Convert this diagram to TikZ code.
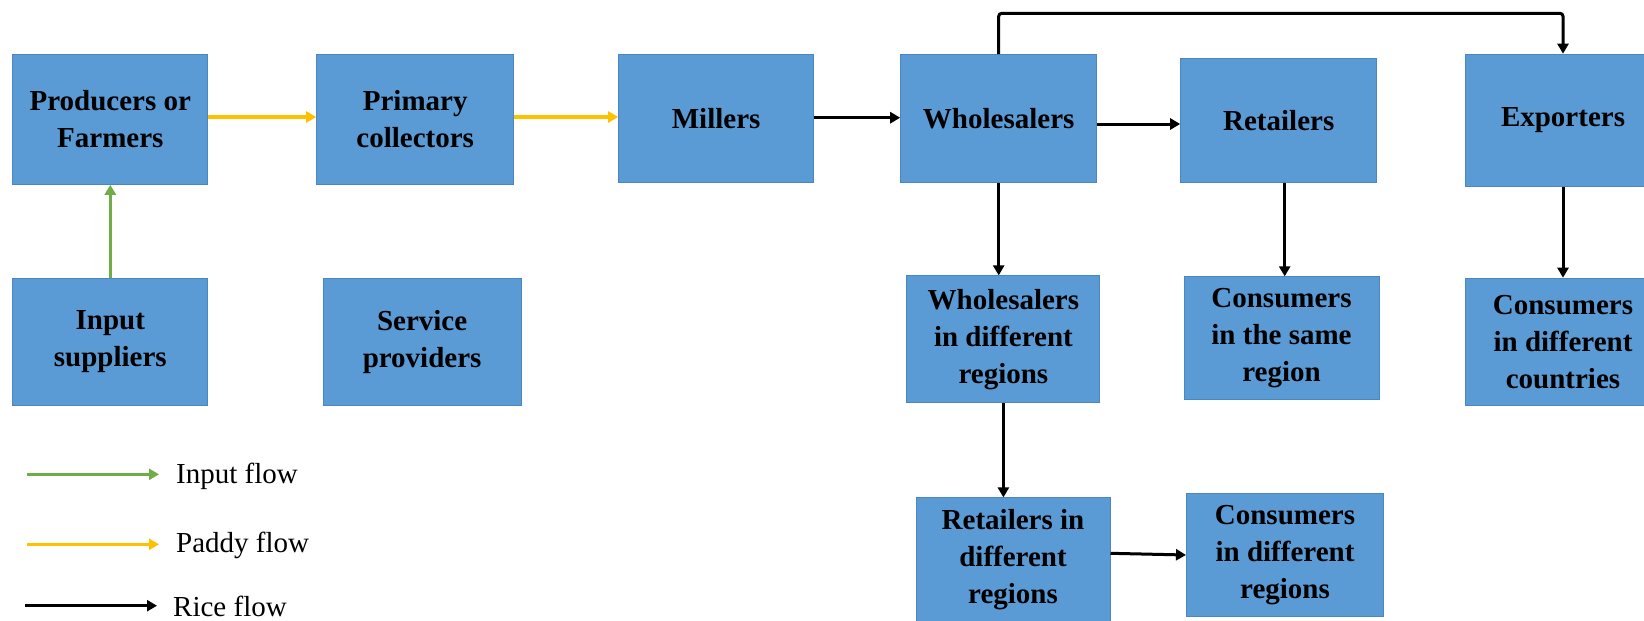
\documentclass[tikz,border=0pt]{standalone}
\usepackage{fontspec}
\setmainfont{Liberation Serif}
\usetikzlibrary{arrows.meta}
\definecolor{boxblue}{HTML}{5B9BD5}
\definecolor{boxedge}{HTML}{4A86C0}
\definecolor{ingreen}{HTML}{70AD47}
\definecolor{paddy}{HTML}{FFC000}
\begin{document}
\begin{tikzpicture}[x=1pt,y=-1pt,
  box/.style={draw=boxedge, line width=1pt, fill=boxblue, inner sep=0pt, align=center,
    font=\fontsize{29}{37}\selectfont\bfseries},
  flow/.style={line width=3pt, -{Triangle[length=10pt,width=11pt]}},
  inflow/.style={flow, line width=2.6pt, draw=ingreen},
  paddyflow/.style={flow, line width=3.2pt, draw=paddy},
  riceflow/.style={flow, draw=black},
  legtext/.style={anchor=west, inner sep=0pt, font=\fontsize{29}{35}\selectfont}
]
\clip (0,0) rectangle (1644,621);
\fill[white] (0,0) rectangle (1644,621);

% top row
\node[box, minimum width=195pt, minimum height=130pt] (prod) at (110.3,119.3) {Producers or\\Farmers};
\node[box, minimum width=197pt, minimum height=130pt] (prim) at (415.2,119.3) {Primary\\collectors};
\node[box, minimum width=195pt, minimum height=128pt] (mill) at (716.1,118.5) {Millers};
\node[box, minimum width=196pt, minimum height=128pt] (whol) at (998.7,118.5) {Wholesalers};
\node[box, minimum width=196pt, minimum height=124pt] (ret) at (1278.7,120.7) {Retailers};
\node[box, minimum width=195pt, minimum height=132pt] (exp) at (1563,120.2) {Exporters};

% second row
\node[box, minimum width=195pt, minimum height=127pt] (inp) at (110.3,341.7) {Input\\suppliers};
\node[box, minimum width=198pt, minimum height=127pt] (serv) at (422.1,341.7) {Service\\providers};
\node[box, minimum width=193pt, minimum height=127pt] (wdr) at (1003.4,339.4) {Wholesalers\\in different\\regions};
\node[box, minimum width=195pt, minimum height=123pt] (csr) at (1281.5,338.3) {Consumers\\in the same\\region};
\node[box, minimum width=195pt, minimum height=127pt] (cdc) at (1563,341.7) {Consumers\\in different\\countries};

% third row
\node[box, minimum width=194pt, minimum height=124pt] (rdr) at (1013,559.9) {Retailers in\\different\\regions};
\node[box, minimum width=197pt, minimum height=123pt] (cdr) at (1285,555) {Consumers\\in different\\regions};

% connectors
\draw[inflow] (inp.north) -- (prod.south);
\draw[paddyflow] (prod.east |- 0,117) -- (prim.west |- 0,117);
\draw[paddyflow] (prim.east |- 0,117) -- (mill.west |- 0,117);
\draw[riceflow] (mill.east |- 0,117.7) -- (whol.west |- 0,117.7);
\draw[riceflow] (whol.east |- 0,124) -- (ret.west |- 0,124);
\draw[riceflow, rounded corners=3pt] (whol.north) -- (whol.north |- 0,13.3) -- (exp.north |- 0,13.3) -- (exp.north);
\draw[riceflow] (whol.south) -- (whol.south |- wdr.north);
\draw[riceflow] ([xshift=6pt]ret.south) -- ([xshift=6pt]ret.south |- csr.north);
\draw[riceflow] (exp.south) -- (exp.south |- cdc.north);
\draw[riceflow] (wdr.south) -- (wdr.south |- rdr.north);
\draw[riceflow] (rdr.east |- 0,553.3) -- (cdr.west |- 0,555);

% legend
\coordinate (ga) at (27,474.3);
\coordinate (gb) at (159,474.3);
\coordinate (ya) at (27,544.3);
\coordinate (yb) at (159,544.3);
\coordinate (ba) at (25,605.7);
\coordinate (bb) at (157,605.7);
\draw[inflow] (ga) -- (gb);
\draw[paddyflow] (ya) -- (yb);
\draw[riceflow] (ba) -- (bb);
\node[legtext] (lin) at (176,476) {Input flow};
\node[legtext] (lpad) at (176,545) {Paddy flow};
\node[legtext] (lrice) at (173,606.5) {Rice flow};
\end{tikzpicture}
\end{document}
